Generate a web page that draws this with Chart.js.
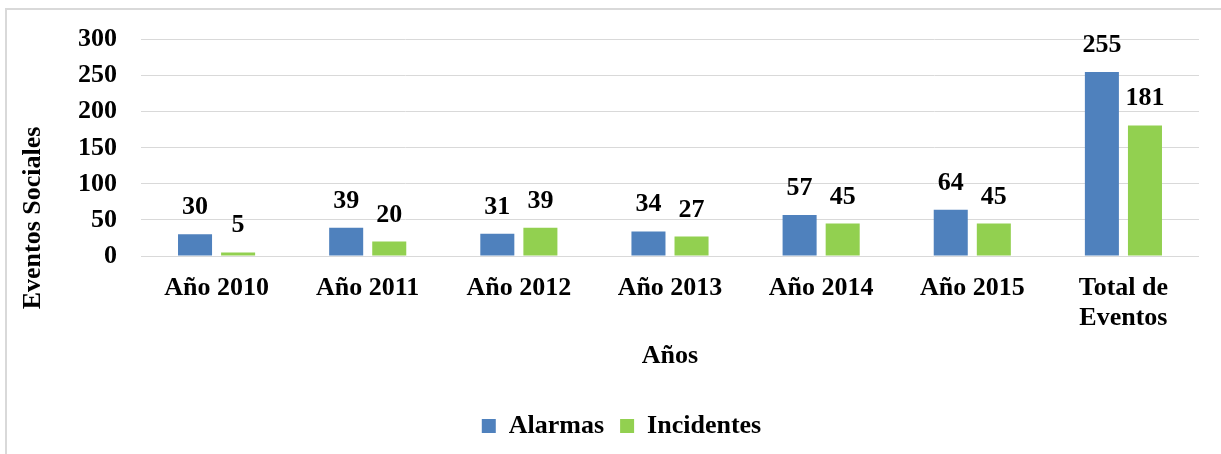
<!DOCTYPE html>
<html>
<head>
<meta charset="utf-8">
<script src="https://cdn.jsdelivr.net/npm/chart.js@4/dist/chart.umd.min.js"></script>
<style>
  html, body { margin: 0; padding: 0; background: #fff; }
</style>
</head>
<body>
<canvas id="chart" width="1221" height="454"></canvas>
<script>
// chart values
const categories = ['Año 2010', 'Año 2011', 'Año 2012', 'Año 2013', 'Año 2014', 'Año 2015', ['Total de', 'Eventos']];
const alarmas = [30, 39, 31, 34, 57, 64, 255];
const incidentes = [5, 20, 39, 27, 45, 45, 181];
const y_max = 300;
const y_step = 50;

const serif = "'Liberation Serif', 'Times New Roman', serif";
Chart.defaults.font.family = serif;
Chart.defaults.color = '#000';

// light grey frame round the chart (left and top edges show)
const frame_plugin = {
    id: 'frame',
    beforeDraw(chart) {
        const ctx = chart.ctx;
        ctx.save();
        ctx.strokeStyle = '#d9d9d9';
        ctx.lineWidth = 2;
        ctx.beginPath();
        ctx.moveTo(6, chart.height);
        ctx.lineTo(6, 9);
        ctx.lineTo(chart.width, 9);
        ctx.stroke();
        ctx.restore();
    }
};

// value labels above each bar + axis titles
const labels_plugin = {
    id: 'bar_labels',
    afterDatasetsDraw(chart) {
        const ctx = chart.ctx;
        ctx.save();
        ctx.font = 'bold 26px ' + serif;
        ctx.fillStyle = '#000';
        ctx.textAlign = 'center';
        ctx.textBaseline = 'alphabetic';
        chart.data.datasets.forEach((ds, i) => {
            chart.getDatasetMeta(i).data.forEach((bar, j) => {
                ctx.fillText(String(ds.data[j]), bar.x, bar.y - 20);
            });
        });

        const area = chart.chartArea;
        ctx.textBaseline = 'middle';
        ctx.fillText('Años', (area.left + area.right) / 2, area.bottom + 100);

        ctx.translate(33, 218);
        ctx.rotate(-Math.PI / 2);
        ctx.fillText('Eventos Sociales', 0, 0);
        ctx.restore();
    }
};

const chart = new Chart(document.getElementById('chart').getContext('2d'), {
    type: 'bar',
    data: {
        labels: categories,
        datasets: [{
            label: 'Alarmas',
            data: alarmas,
            backgroundColor: '#4f81bd',
            borderWidth: 0
        }, {
            label: 'Incidentes',
            data: incidentes,
            backgroundColor: '#92d050',
            borderWidth: 0
        }]
    },
    options: {
        responsive: false,
        animation: false,
        categoryPercentage: 0.57,
        barPercentage: 0.79,
        layout: {
            padding: { top: 38, left: 44, right: 22, bottom: 5 }
        },
        scales: {
            x: {
                grid: { display: false, drawTicks: false },
                border: { display: false },
                ticks: {
                    font: { size: 26, weight: 'bold', lineHeight: 1.15 },
                    color: '#000',
                    padding: 17,
                    maxRotation: 0,
                    autoSkip: false
                },
                afterFit(scale) { scale.height = 141; }
            },
            y: {
                min: 0,
                max: y_max,
                grid: { color: '#d9d9d9', lineWidth: 1, drawTicks: false },
                border: { display: false },
                ticks: {
                    stepSize: y_step,
                    font: { size: 26, weight: 'bold' },
                    color: '#000',
                    padding: 24
                },
                afterFit(scale) { scale.width = 97; }
            }
        },
        plugins: {
            legend: {
                position: 'bottom',
                labels: {
                    font: { size: 26, weight: 'bold' },
                    color: '#000',
                    boxWidth: 14,
                    boxHeight: 14,
                    padding: 16
                }
            },
            tooltip: { enabled: false }
        }
    },
    plugins: [frame_plugin, labels_plugin]
});
</script>
</body>
</html>
